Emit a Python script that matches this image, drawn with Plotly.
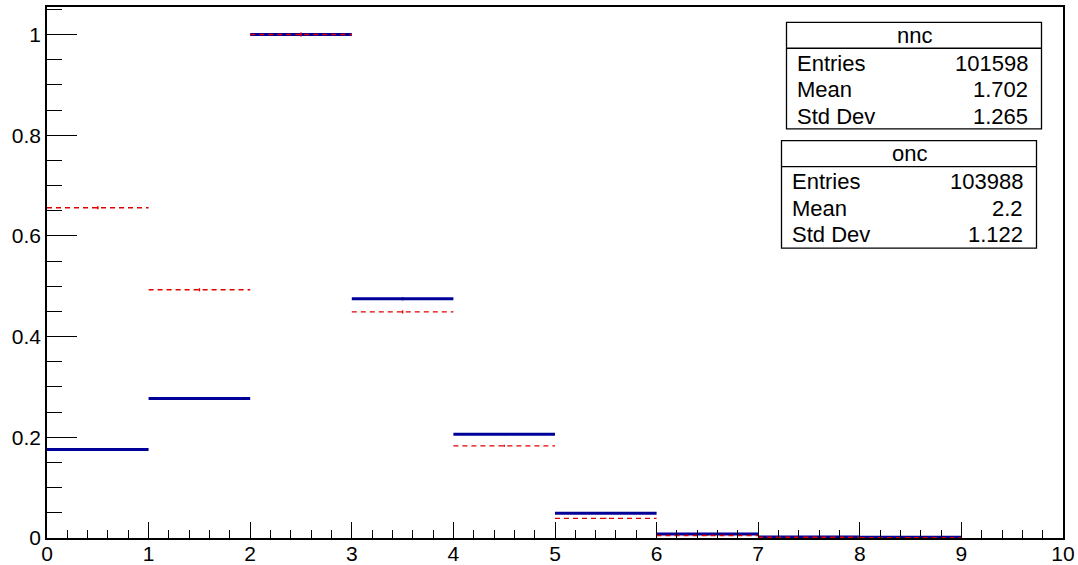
import plotly.graph_objects as go

# ---- data ----
bin_low = [0, 1, 2, 3, 4, 5, 6, 7, 8]
bin_high = [1, 2, 3, 4, 5, 6, 7, 8, 9]
onc_vals = [0.176, 0.277, 1.0, 0.475, 0.206, 0.049, 0.008, 0.002, 0.0015]
onc_err = [0.002, 0.002, 0.003, 0.003, 0.002, 0.001, 0.0005, 0.0002, 0.0002]
nnc_vals = [0.656, 0.493, 1.0, 0.449, 0.183, 0.039, 0.005, 0.0015, 0.0008]
nnc_err = [0.003, 0.003, 0.004, 0.003, 0.002, 0.001, 0.0005, 0.0002, 0.0002]

stats_nnc = [("Entries", "101598"), ("Mean", "1.702"), ("Std Dev", "1.265")]
stats_onc = [("Entries", "103988"), ("Mean", "2.2"), ("Std Dev", "1.122")]

BLUE = "#000099"
RED = "#e00000"
FONT = "Liberation Sans, Arial, Helvetica, sans-serif"


def segments(lo, hi, vals):
    xs, ys = [], []
    for a, b, v in zip(lo, hi, vals):
        xs += [a, b, None]
        ys += [v, v, None]
    return xs, ys


centers = [(a + b) / 2 for a, b in zip(bin_low, bin_high)]

fig = go.Figure()

bx, by = segments(bin_low, bin_high, onc_vals)
fig.add_trace(go.Scatter(x=bx, y=by, mode="lines",
                         line=dict(color=BLUE, width=3), hoverinfo="skip"))
fig.add_trace(go.Scatter(x=centers, y=onc_vals, mode="markers",
                         marker=dict(size=1, color=BLUE),
                         error_y=dict(type="data", array=onc_err, color=BLUE,
                                      thickness=1.5, width=0)))

rx, ry = segments(bin_low, bin_high, nnc_vals)
fig.add_trace(go.Scatter(x=rx, y=ry, mode="lines",
                         line=dict(color=RED, width=1.4, dash="5px,4px"),
                         hoverinfo="skip"))
fig.add_trace(go.Scatter(x=centers, y=nnc_vals, mode="markers",
                         marker=dict(size=1, color=RED),
                         error_y=dict(type="data", array=nnc_err, color=RED,
                                      thickness=1.5, width=0)))

# plot area geometry (pixels)
L, R, T, B = 47, 1063, 7, 538.5
W, H = 1078, 565


def px(xp):
    return (xp - L) / (R - L)


def py(yp):
    return (B - yp) / (B - T)


def stat_box(x0, x1, y0, ysep, y1, title, rows, row_ys, tx_l, tx_r):
    fig.add_shape(type="rect", xref="paper", yref="paper",
                  x0=px(x0), x1=px(x1), y0=py(y1), y1=py(y0),
                  line=dict(color="black", width=1.3), fillcolor="white",
                  layer="above")
    fig.add_shape(type="line", xref="paper", yref="paper",
                  x0=px(x0), x1=px(x1), y0=py(ysep), y1=py(ysep),
                  line=dict(color="black", width=1.3), layer="above")
    fig.add_annotation(xref="paper", yref="paper", x=px((x0 + x1) / 2),
                       y=py((y0 + ysep) / 2), text=title, showarrow=False,
                       xanchor="center", yanchor="middle",
                       font=dict(family=FONT, size=22, color="black"))
    for (k, v), yy in zip(rows, row_ys):
        fig.add_annotation(xref="paper", yref="paper", x=px(tx_l), y=py(yy),
                           text=k, showarrow=False, xanchor="left",
                           yanchor="middle",
                           font=dict(family=FONT, size=22, color="black"))
        fig.add_annotation(xref="paper", yref="paper", x=px(tx_r), y=py(yy),
                           text=v, showarrow=False, xanchor="right",
                           yanchor="middle",
                           font=dict(family=FONT, size=22, color="black"))


stat_box(786.5, 1041.5, 22.3, 48.3, 129, "nnc", stats_nnc,
         [63.5, 90, 116.5], 795, 1030)
stat_box(781.5, 1036.5, 140.7, 166.7, 248.3, "onc", stats_onc,
         [182, 208.5, 235], 790, 1025)

fig.update_layout(
    width=W, height=H,
    margin=dict(l=L, r=W - R, t=T, b=H - B),
    paper_bgcolor="white", plot_bgcolor="white",
    showlegend=False,
    font=dict(family=FONT, size=21, color="black"),
)
fig.update_xaxes(range=[0, 10], dtick=1, tick0=0, ticks="inside", ticklen=16,
                 tickwidth=1.2, tickcolor="black", showline=True,
                 linecolor="black", linewidth=1.6, mirror=True,
                 showgrid=False, zeroline=False, automargin=False,
                 ticklabelstandoff=-4,
                 minor=dict(dtick=0.2, ticks="inside", ticklen=8,
                            tickwidth=1.2, tickcolor="black", showgrid=False),
                 tickfont=dict(family=FONT, size=21))
fig.update_yaxes(range=[0, (B - T) / 504], dtick=0.2, tick0=0, ticks="inside",
                 ticklen=30, tickwidth=1.2, tickcolor="black", showline=True,
                 linecolor="black", linewidth=1.6, mirror=True,
                 showgrid=False, zeroline=False, automargin=False,
                 minor=dict(dtick=0.05, ticks="inside", ticklen=15,
                            tickwidth=1.2, tickcolor="black", showgrid=False),
                 tickfont=dict(family=FONT, size=21))

fig.write_html("out.html")
